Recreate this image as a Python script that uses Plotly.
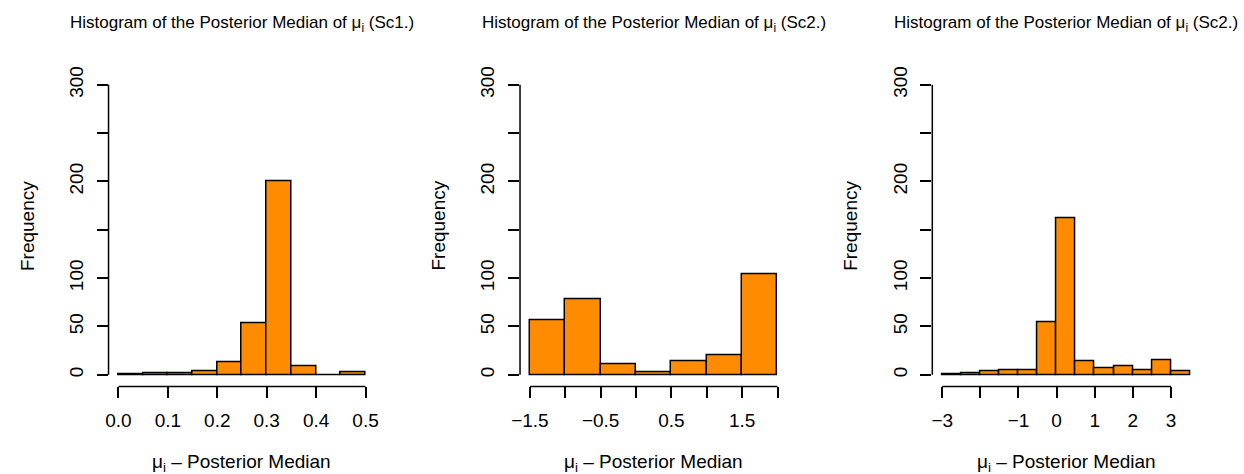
import numpy as np
import plotly.graph_objects as go

# Histogram bin edges and counts for the three scenarios
sc1_breaks = [0.00, 0.05, 0.10, 0.15, 0.20, 0.25, 0.30, 0.35, 0.40, 0.45, 0.50]
sc1_counts = [1, 2, 2, 4, 13, 53, 200, 9, 0, 3]

sc2a_breaks = [-1.5, -1.0, -0.5, 0.0, 0.5, 1.0, 1.5, 2.0]
sc2a_counts = [56, 78, 11, 3, 14, 20, 104]

sc2b_breaks = [-3.0, -2.5, -2.0, -1.5, -1.0, -0.5, 0.0, 0.5, 1.0, 1.5, 2.0, 2.5, 3.0, 3.5]
sc2b_counts = [1, 2, 4, 5, 5, 54, 162, 14, 7, 9, 5, 15, 4]

titles = ["Histogram of the Posterior Median of μ<sub>i</sub> (Sc1.)",
          "Histogram of the Posterior Median of μ<sub>i</sub> (Sc2.)",
          "Histogram of the Posterior Median of μ<sub>i</sub> (Sc2.)"]
x_title = "μ<sub>i</sub> – Posterior Median"
y_title = "Frequency"

# x tick positions and their labels (blank where R drops overlapping labels)
x_ticks = [
    ([0.0, 0.1, 0.2, 0.3, 0.4, 0.5], ["0.0", "0.1", "0.2", "0.3", "0.4", "0.5"]),
    ([-1.5, -1.0, -0.5, 0.0, 0.5, 1.0, 1.5, 2.0], ["−1.5", "", "−0.5", "", "0.5", "", "1.5", ""]),
    ([-3, -2, -1, 0, 1, 2, 3], ["−3", "", "−1", "0", "1", "2", "3"]),
]
y_tickvals = [0, 50, 100, 150, 200, 250, 300]
y_ticktext = ["0", "50", "100", "", "200", "", "300"]

W, H = 1244, 474
FONT = "Liberation Sans, Arial, Helvetica, sans-serif"
FILL = "#FF8C00"

panels = [(sc1_breaks, sc1_counts), (sc2a_breaks, sc2a_counts), (sc2b_breaks, sc2b_counts)]
# plot regions in pixels (left, right)
px_x = [(100.5, 370.0), (516.0, 786.0), (932.3, 1202.6)]
px_top, px_bot = 67.2, 385.1

fig = go.Figure()
shapes = []
annotations = []
layout_axes = {}

for k, (breaks, counts) in enumerate(panels):
    sfx = "" if k == 0 else str(k + 1)
    xa, ya = "x" + sfx, "y" + sfx
    b = np.array(breaks, dtype=float)
    widths = np.diff(b)
    fig.add_trace(go.Bar(
        x=b[:-1], y=counts, width=widths, offset=0,
        marker=dict(color=FILL, line=dict(color="black", width=1.5)),
        xaxis=xa, yaxis=ya, showlegend=False, hoverinfo="x+y",
    ))
    lo, hi = b[0], b[-1]
    pad = 0.04 * (hi - lo)
    tv, tt = x_ticks[k]
    layout_axes["xaxis" + sfx] = dict(
        domain=[px_x[k][0] / W, px_x[k][1] / W],
        range=[lo - pad, hi + pad], anchor=ya,
        showline=False, showgrid=False, zeroline=False,
        ticks="outside", ticklen=11, tickwidth=1.5, tickcolor="black",
        tickvals=tv, ticktext=tt, tickangle=0,
        ticklabelstandoff=6,
        tickfont=dict(family=FONT, size=19, color="black"),
    )
    layout_axes["yaxis" + sfx] = dict(
        domain=[1 - px_bot / H, 1 - px_top / H],
        range=[-12, 312], anchor=xa,
        showline=False, showgrid=False, zeroline=False,
        ticks="outside", ticklen=11, tickwidth=1.5, tickcolor="black",
        tickvals=y_tickvals, ticktext=y_ticktext, tickangle=-90,
        ticklabelstandoff=6,
        tickfont=dict(family=FONT, size=19, color="black"),
    )
    # R-style axis lines spanning only the tick range
    shapes.append(dict(type="line", xref=xa, yref=ya + " domain",
                       x0=tv[0], x1=tv[-1], y0=0, y1=0,
                       line=dict(color="black", width=1.5)))
    shapes.append(dict(type="line", xref=xa + " domain", yref=ya,
                       x0=0, x1=0, y0=0, y1=300,
                       line=dict(color="black", width=1.5)))
    cx = (px_x[k][0] + px_x[k][1]) / 2 / W
    annotations.append(dict(text=titles[k], x=cx, y=1 - 17 / H, xref="paper", yref="paper",
                            xanchor="center", yanchor="middle", showarrow=False,
                            font=dict(family=FONT, size=17, color="black")))
    annotations.append(dict(text=x_title, x=cx, y=1 - 463 / H, xref="paper", yref="paper",
                            xanchor="center", yanchor="middle", showarrow=False,
                            font=dict(family=FONT, size=19, color="black")))
    annotations.append(dict(text=y_title, x=(px_x[k][0] - 82) / W, y=1 - 222 / H,
                            xref="paper", yref="paper", textangle=-90,
                            xanchor="center", yanchor="middle", showarrow=False,
                            font=dict(family=FONT, size=19, color="black")))

fig.update_layout(
    width=W, height=H, margin=dict(l=0, r=0, t=0, b=0),
    paper_bgcolor="white", plot_bgcolor="white",
    bargap=0, shapes=shapes, annotations=annotations,
    **layout_axes,
)
# place the figure flush with the page corner
fig.write_html(
    "out.html",
    config={"displayModeBar": False},
    post_script="document.body.style.margin='0';document.body.style.overflow='hidden';",
)
